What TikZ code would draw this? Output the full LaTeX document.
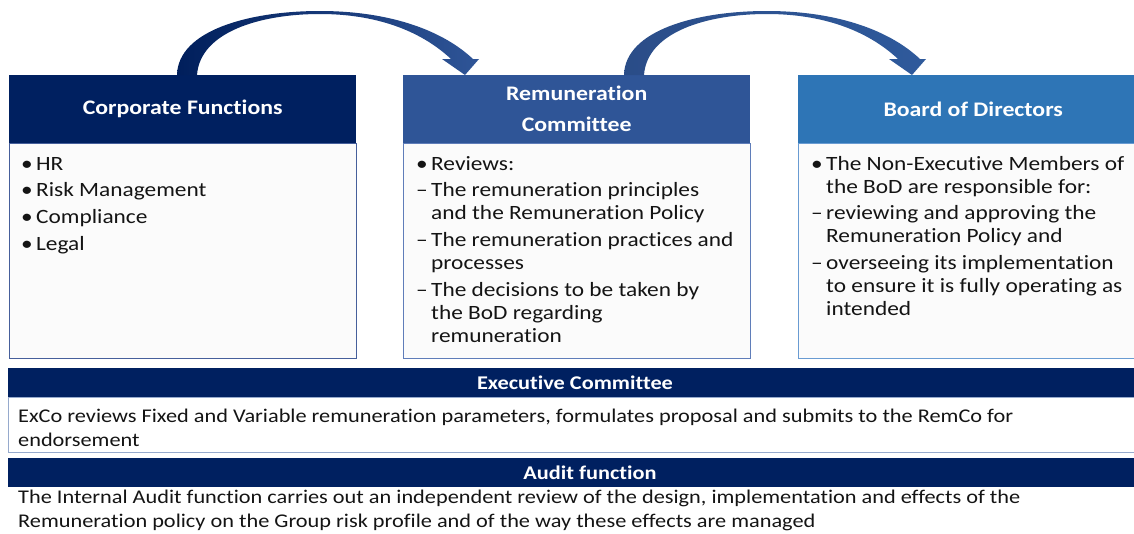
\documentclass[tikz,border=0pt]{standalone}
\usepackage{fontspec}
\setmainfont{Carlito}[FakeStretch=1.15, Ligatures={TeX,NoCommon}]
\usetikzlibrary{calc}
\definecolor{navy}{RGB}{0,32,96}
\definecolor{remco}{RGB}{47,85,151}
\definecolor{bodc}{RGB}{46,117,182}
\definecolor{edgeA}{RGB}{70,95,155}
\definecolor{edgeB}{RGB}{95,125,185}
\definecolor{edgeC}{RGB}{105,155,210}
\definecolor{edgeD}{RGB}{150,170,205}
\definecolor{paper}{RGB}{251,251,251}
\definecolor{ink}{RGB}{20,20,20}
\newcommand{\bu}{\makebox[15pt][l]{\textbullet}}
\newcommand{\da}{\makebox[15pt][l]{--}}
\newcommand{\ind}{\hspace*{15pt}}
\newcommand{\topstrut}{\rule{0pt}{16pt}}
\tikzset{
  hdr/.style={anchor=north west, inner sep=0pt, text=white, align=center,
    font=\fontsize{20.7}{31}\selectfont\bfseries},
  bodybox/.style={anchor=north west, inner sep=0pt, fill=paper, line width=0.9pt},
  bodytext/.style={anchor=north west, inner sep=0pt, text=ink, align=left,
    font=\fontsize{20.3}{23}\selectfont},
  bartext/.style={anchor=north west, inner sep=0pt, text=ink, align=left,
    font=\fontsize{19.4}{24}\selectfont},
  barhdr/.style={anchor=north west, inner sep=0pt, fill=navy, minimum width=1140,
    minimum height=29},
  barlabel/.style={anchor=base, inner sep=0pt, text=white, font=\fontsize{19.4}{23}\selectfont\bfseries}
}
% curved arrow band; origin at the left end of its base on a box's top edge
\newcommand{\curvearrow}[3]{%
  \shade[shift={#1}, left color=#2, right color=#3]
    (0,0) .. controls (1,-45) and (73,-64) .. (143,-64)
          .. controls (208,-64) and (263,-47) .. (296,-16)
    -- (302,-16) -- (288,0) -- (265,-16) -- (274,-16)
          .. controls (243,-45) and (198,-61) .. (143,-61)
          .. controls (83,-61) and (23,-43) .. (20,0) -- cycle;}
\begin{document}
\begin{tikzpicture}[x=1pt,y=-1pt]
\useasboundingbox (0,0) rectangle (1134,533);
\fill[white] (0,0) rectangle (1134,533);

% three committee boxes
\node[bodybox, draw=edgeA, minimum width=347, minimum height=215] (cfb) at (9,143) {};
\node[hdr, fill=navy, minimum width=347, minimum height=68] (cfh) at (9,75) {Corporate Functions};
\node[bodybox, draw=edgeB, minimum width=347, minimum height=215] (rcb) at (403,143) {};
\node[hdr, fill=remco, minimum width=347, minimum height=68] (rch) at (403,75) {Remuneration\\Committee};
\node[bodybox, draw=edgeC, minimum width=350, minimum height=215] (bdb) at (798,143) {};
\node[hdr, fill=bodc, minimum width=350, minimum height=68] (bdh) at (798,75) {Board of Directors};

\node[bodytext] (cft) at (21,154) {\topstrut\bu HR\\[3.7pt]\bu Risk Management\\[3.7pt]\bu Compliance\\[3.7pt]\bu Legal};
\node[bodytext] (rct) at (416,154) {\topstrut\bu Reviews:\\[3.7pt]
  \da The remuneration principles\\\ind and the Remuneration Policy\\[3.7pt]
  \da The remuneration practices and\\\ind processes\\[3.7pt]
  \da The decisions to be taken by\\\ind the BoD regarding\\\ind remuneration};
\node[bodytext] (bdt) at (811,154) {\topstrut\bu The Non-Executive Members of\\\ind the BoD are responsible for:\\[3.7pt]
  \da reviewing and approving the\\\ind Remuneration Policy and\\[3.7pt]
  \da overseeing its implementation\\\ind to ensure it is fully operating as\\\ind intended};

% arrows between the boxes
\curvearrow{($(cfh.north west)+(168,0)$)}{navy!95!black}{remco}
\curvearrow{($(rch.north west)+(221,0)$)}{remco!90!black}{remco!85!bodc}

% executive committee bar
\node[bodybox, fill=white, draw=edgeD, minimum width=1140, minimum height=55] (exb) at (8,397) {};
\node[barhdr] (exh) at (8,368) {};
\node[barlabel] (exl) at (575,389) {Executive Committee};
\node[bartext] (ext) at (18,406) {\topstrut ExCo reviews Fixed and Variable remuneration parameters, formulates proposal and submits to the RemCo for\\endorsement};

% audit function bar
\node[barhdr] (auh) at (8,458) {};
\node[barlabel] (aul) at (590,479) {Audit function};
\node[bartext] (aut) at (18,487) {\topstrut The Internal Audit function carries out an independent review of the design, implementation and effects of the\\Remuneration policy on the Group risk profile and of the way these effects are managed};
\end{tikzpicture}
\end{document}
